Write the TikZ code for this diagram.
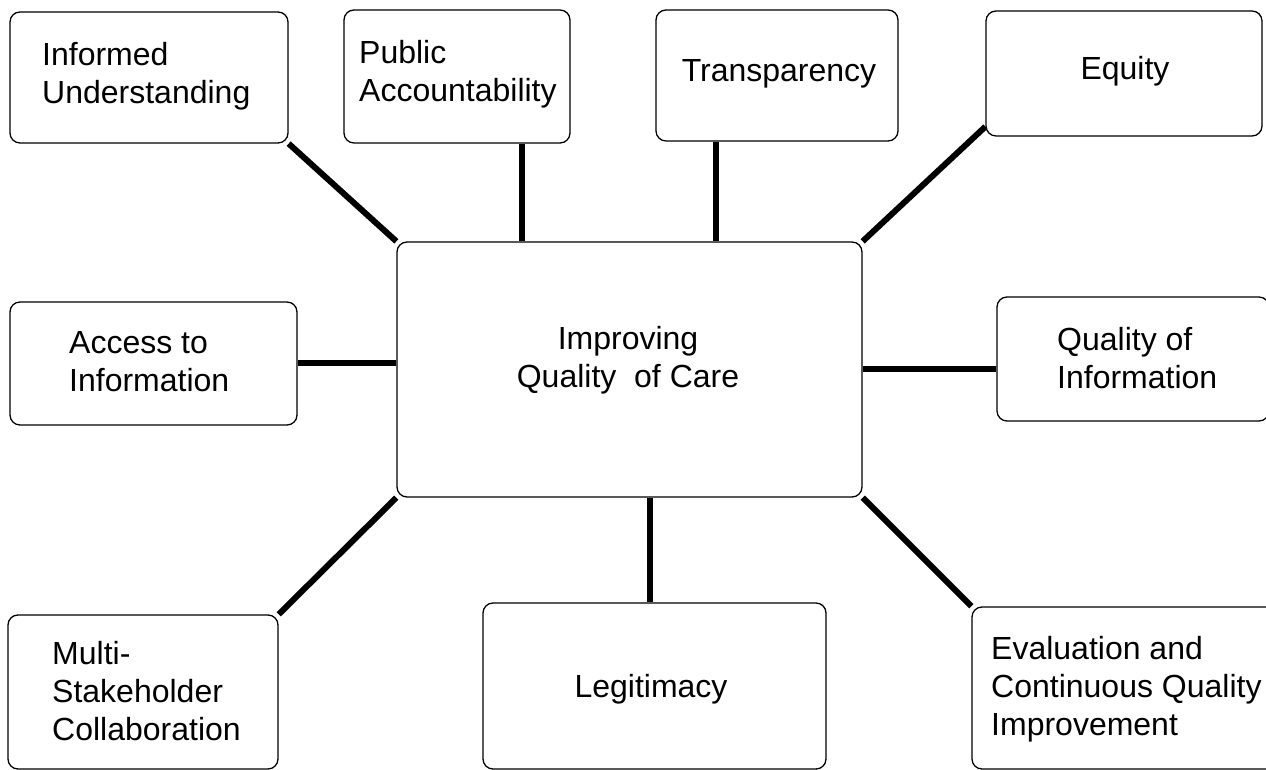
\documentclass[tikz,border=0pt]{standalone}
\usepackage{fontspec}
\setmainfont{Liberation Sans}
\begin{document}
\begin{tikzpicture}[x=1pt,y=1pt,
		box/.style={draw, rounded corners=10pt, line width=1.3pt, fill=white},
		txt/.style={font=\fontsize{32}{38}\selectfont, align=left, inner sep=0pt},
		link/.style={line width=6pt}]
		\useasboundingbox (0,0) rectangle (1266,770);
		% boxes
		\node[box, minimum width=278pt, minimum height=131pt] (inf) at (149,692.5) {};
		\node[box, minimum width=226pt, minimum height=133pt] (pub) at (457,693.5) {};
		\node[box, minimum width=242pt, minimum height=131pt] (tra) at (777,694.5) {};
		\node[box, minimum width=276pt, minimum height=125pt] (equ) at (1124,696.5) {};
		\node[box, minimum width=287pt, minimum height=123pt] (acc) at (153.5,406.5) {};
		\node[box, minimum width=465pt, minimum height=255pt] (center) at (629.5,400.5) {};
		\node[box, minimum width=272pt, minimum height=124pt] (qoi) at (1133,411) {};
		\node[box, minimum width=270pt, minimum height=154pt] (mul) at (143,78) {};
		\node[box, minimum width=343pt, minimum height=166pt] (leg) at (654.5,84) {};
		\node[box, minimum width=304pt, minimum height=162pt] (eva) at (1124,82) {};
		% texts
		\node[txt, anchor=west] (inftxt) at (42,694) {Informed\\Understanding};
		\node[txt, anchor=west] (pubtxt) at (359,696) {Public\\Accountability};
		\node[txt] (tratxt) at (779,696) {Transparency};
		\node[txt] (equtxt) at (1125,699) {Equity};
		\node[txt, anchor=west] (acctxt) at (69,408) {Access to\\Information};
		\node[txt, align=center] (centertxt) at (628,410) {Improving\\Quality\ \ of Care};
		\node[txt, anchor=west] (qoitxt) at (1057,412) {Quality of\\Information};
		\node[txt, anchor=west] (multxt) at (52,79) {Multi-\\Stakeholder\\Collaboration};
		\node[txt] (legtxt) at (651,81) {Legitimacy};
		\node[txt, anchor=west] (evatxt) at (991,81) {Evaluation and\\Continuous Quality\\Improvement};
		% connectors
		\coordinate (pubfoot) at ([xshift=65pt]pub.south);
		\coordinate (trafoot) at ([xshift=-61pt]tra.south);
		\coordinate (legfoot) at ([xshift=-5pt]leg.north);
		\draw[link] (inf.south east) -- (center.north west);
		\draw[link] (pubfoot) -- (pubfoot |- center.north);
		\draw[link] (trafoot) -- (trafoot |- center.north);
		\draw[link] ([yshift=10pt]equ.south west) -- (center.north east);
		\draw[link] (acc.east) -- (acc.east -| center.west);
		\draw[link] (center.east) -- (center.east -| qoi.west);
		\draw[link] (center.south west) -- (mul.north east);
		\draw[link] (legfoot) -- (legfoot |- center.south);
		\draw[link] (center.south east) -- (eva.north west);
	\end{tikzpicture}
\end{document}
